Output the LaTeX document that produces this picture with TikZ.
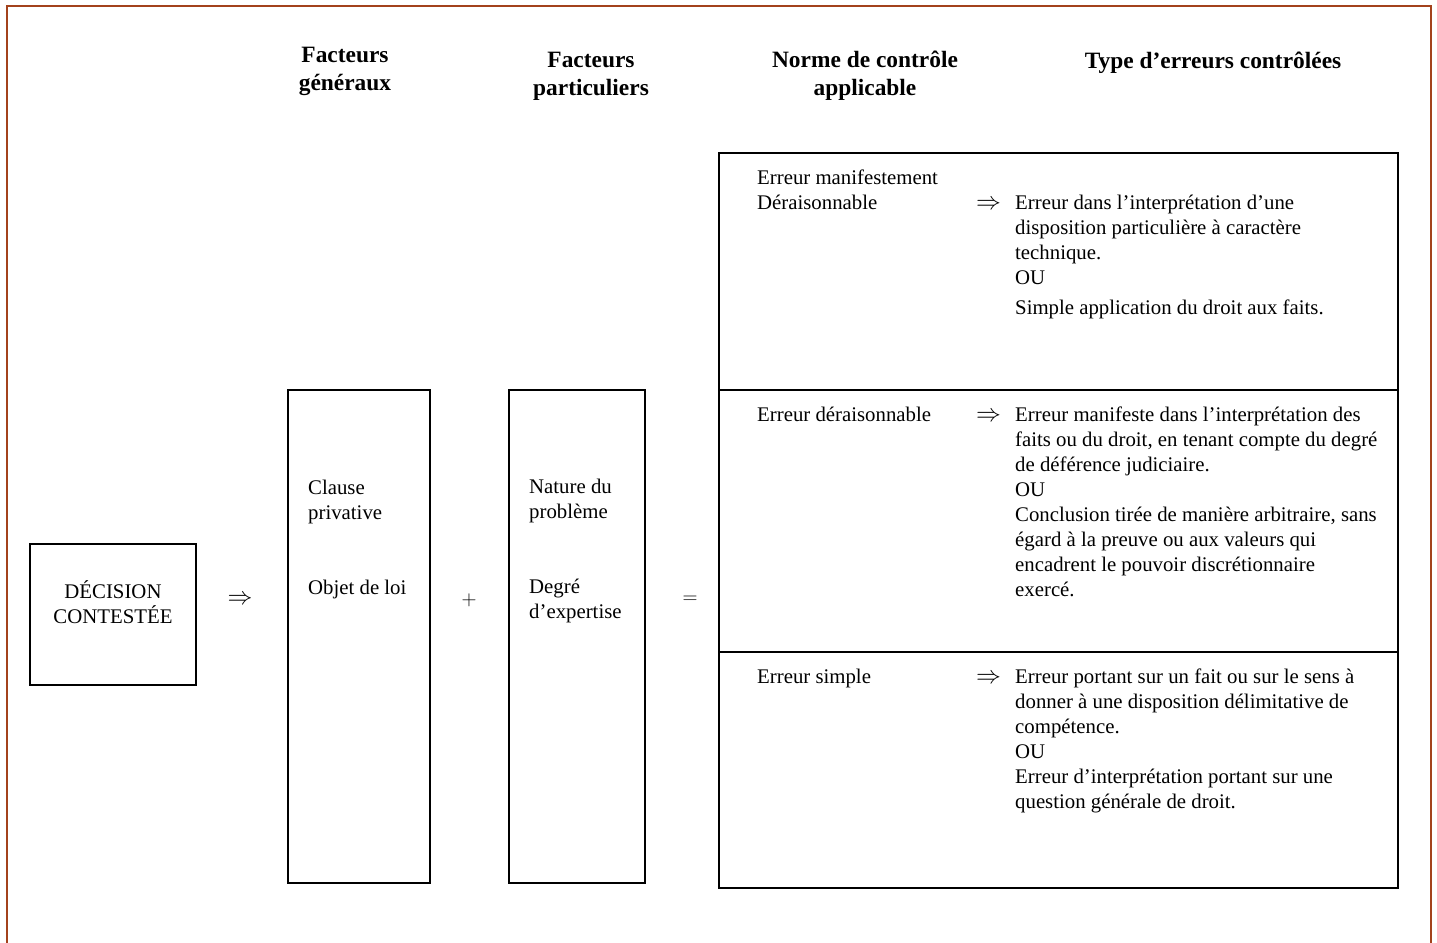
\documentclass[tikz,border=0pt]{standalone}
\usepackage{fontspec}
\setmainfont{Liberation Serif}
\definecolor{frame}{HTML}{A3421C}
\tikzset{
  box/.style={draw=black, line width=1.8pt, rectangle, inner sep=0pt},
  txt/.style={font=\fontsize{20.8}{25}\selectfont, inner sep=0pt, align=left, anchor=base west},
  ctxt/.style={font=\fontsize{20.8}{25}\selectfont, inner sep=0pt, align=center, anchor=base},
  head/.style={font=\fontsize{23.4}{28}\selectfont\bfseries, inner sep=0pt, align=center, anchor=base},
  sym/.style={font=\fontsize{20.8}{25}\selectfont, inner sep=0pt},
  arr/.style={font=\fontsize{24}{25}\selectfont, inner sep=0pt}
}
\begin{document}
\begin{tikzpicture}[x=1pt,y=-1pt]
\useasboundingbox (0,0) rectangle (1437,942);
% outer frame
\draw[frame, line width=2.2pt] (7,950) -- (7,6) -- (1431,6) -- (1431,950);

% headings (anchor = baseline of last line)
\node[head] (h1) at (345,90) {Facteurs\\généraux};
\node[head] (h2) at (591,95) {Facteurs\\particuliers};
\node[head] (h3) at (865,95) {Norme de contrôle\\applicable};
\node[head] (h4) at (1213,68) {Type d’erreurs contrôlées};

% decision box
\node[box, minimum width=166pt, minimum height=141pt] (dec) at (113,614.5) {};
\node[ctxt] (dect) at (113,623) {DÉCISION\\CONTESTÉE};
\node[arr] (imp1) at (240,600) {$\Rightarrow$};

% factor boxes
\node[box, minimum width=142pt, minimum height=493pt] (gen) at (359,636.5) {};
\node[txt] (gen1) at (308,519) {Clause\\privative};
\node[txt] (gen2) at (308,594) {Objet de loi};
\node[sym] (plus) at (469,600) {$+$};
\node[box, minimum width=136pt, minimum height=493pt] (par) at (577,636.5) {};
\node[txt] (par1) at (529,518) {Nature du\\problème};
\node[txt] (par2) at (529,618) {Degré\\d’expertise};
\node[sym] (eq) at (690,600) {$=$};

% norms table
\node[box, minimum width=679pt, minimum height=237pt] (r1) at (1058.5,271.5) {};
\node[box, minimum width=679pt, minimum height=262pt] (r2) at (1058.5,521) {};
\node[box, minimum width=679pt, minimum height=236pt] (r3) at (1058.5,770) {};

% row 1
\node[txt] (n1) at (757,209) {Erreur manifestement\\Déraisonnable};
\node[arr, anchor=base west] (a1) at (976,209) {$\Rightarrow$};
\node[txt] (e1) at (1015,314) {Erreur dans l’interprétation d’une\\disposition particulière à caractère\\technique.\\OU\\[5pt]Simple application du droit aux faits.};

% row 2
\node[txt] (n2) at (757,421) {Erreur déraisonnable};
\node[arr, anchor=base west] (a2) at (976,421) {$\Rightarrow$};
\node[txt] (e2) at (1015,596) {Erreur manifeste dans l’interprétation des\\faits ou du droit, en tenant compte du degré\\de déférence judiciaire.\\OU\\Conclusion tirée de manière arbitraire, sans\\égard à la preuve ou aux valeurs qui\\encadrent le pouvoir discrétionnaire\\exercé.};

% row 3
\node[txt] (n3) at (757,683) {Erreur simple};
\node[arr, anchor=base west] (a3) at (976,683) {$\Rightarrow$};
\node[txt] (e3) at (1015,808) {Erreur portant sur un fait ou sur le sens à\\donner à une disposition délimitative de\\compétence.\\OU\\Erreur d’interprétation portant sur une\\question générale de droit.};
\end{tikzpicture}
\end{document}
